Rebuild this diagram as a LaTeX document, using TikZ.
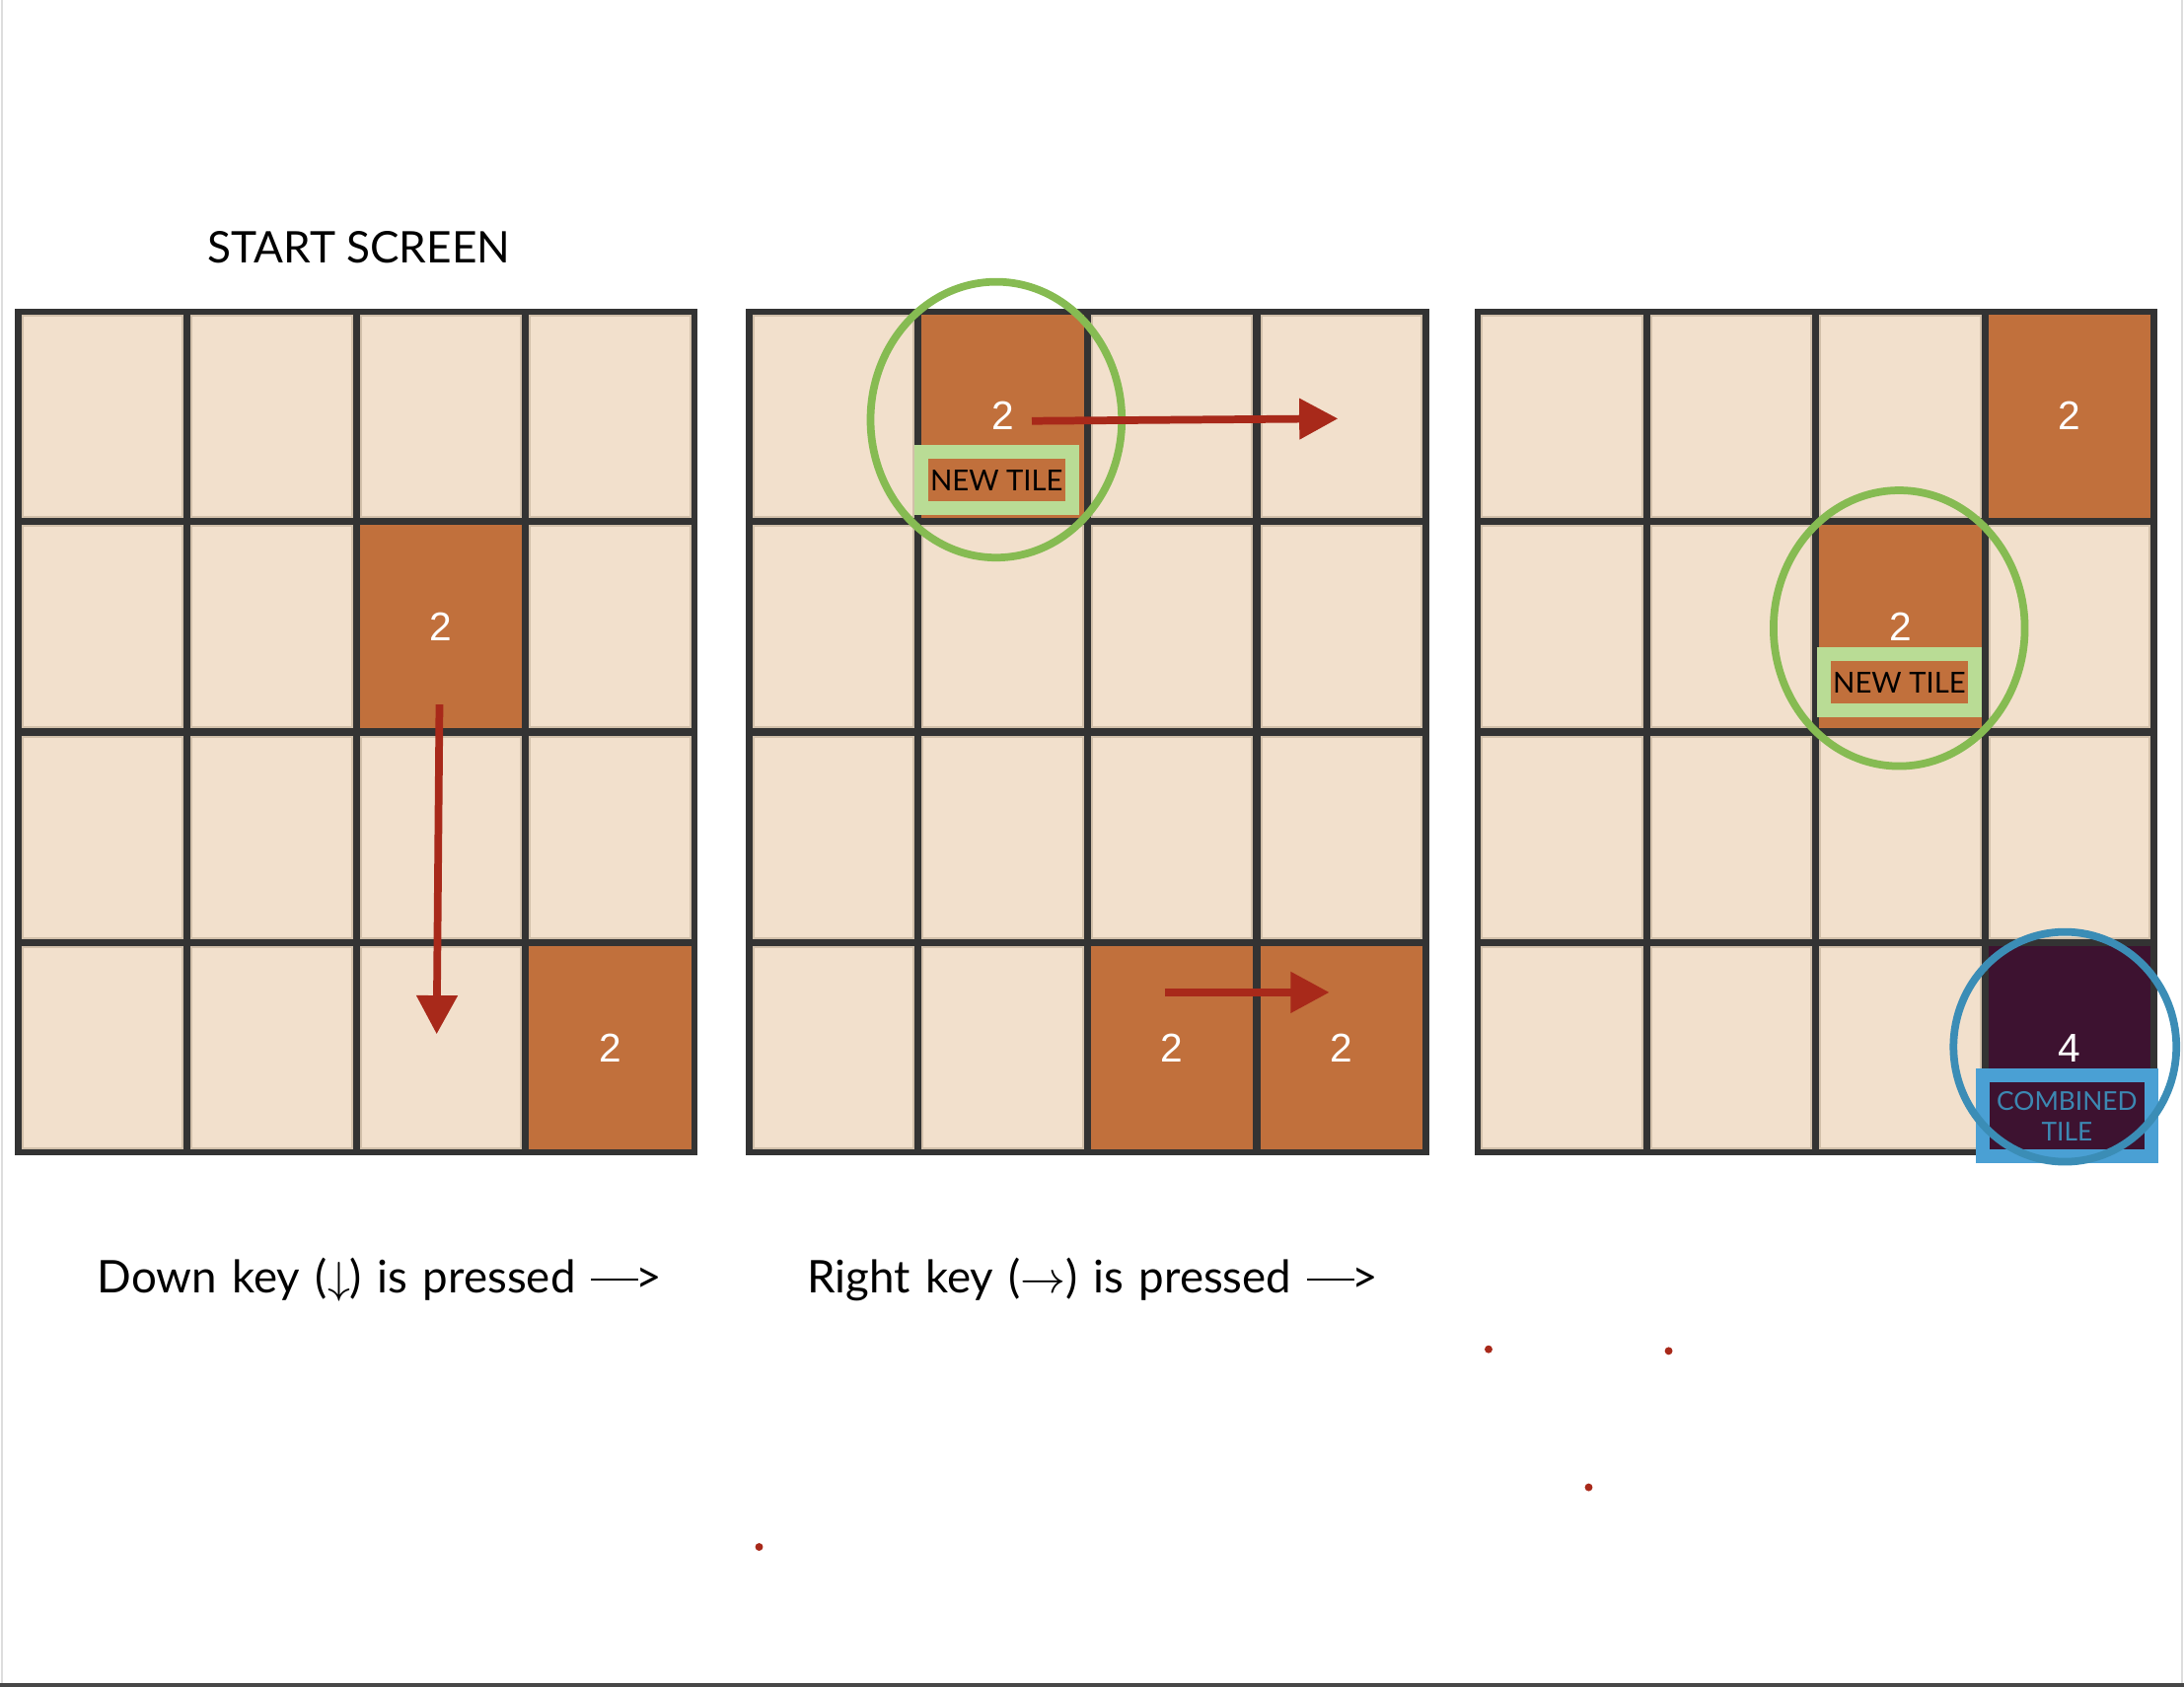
\documentclass[tikz,border=0pt]{standalone}
\usepackage{fontspec}
\setmainfont{Lato}
\newfontfamily\digitfont{Liberation Sans}
\newfontfamily\capfont{Lato}[WordSpace=1.33]
\usepackage{tikz}
\usetikzlibrary{arrows.meta,positioning,shapes.geometric}

\definecolor{board}{HTML}{333333}
\definecolor{sand}{HTML}{F2E0CC}
\definecolor{sandedge}{HTML}{D2C0AA}
\definecolor{copper}{HTML}{C1703C}
\definecolor{plum}{HTML}{3D1230}
\definecolor{arrowred}{HTML}{A8291A}
\definecolor{ringgreen}{HTML}{86BB52}
\definecolor{boxgreen}{HTML}{B9DC95}
\definecolor{ringblue}{HTML}{3B8DB6}
\definecolor{boxblue}{HTML}{4AA0D4}
\definecolor{textblue}{HTML}{3C88B2}
\definecolor{framegray}{HTML}{DDDDDD}

\newcommand{\longdash}{\rule[0.26em]{1.05em}{0.055em}\kern-0.05em}

\begin{document}
\begin{tikzpicture}[x=0.1mm, y=-0.1mm]
        \tikzset{cell/.style={rectangle, fill=sand, draw=sandedge, line width=0.4pt, minimum width=11.5mm, minimum height=14.44mm, inner sep=0pt}}
        \tikzset{tile/.style={cell, fill=copper, draw=copper, text=white, font=\digitfont\fontsize{8.2}{9}\selectfont}}
        \tikzset{bigtile/.style={tile, fill=plum, draw=plum}}
        \tikzset{label/.style={anchor=base, font=\fontsize{8.9}{10}\selectfont}}
        \tikzset{caption/.style={anchor=base, font=\capfont\fontsize{9.2}{10}\selectfont}}
        \tikzset{newbox/.style={rectangle, draw=boxgreen, line width=2.84pt, minimum width=10.81mm, minimum height=4.06mm, inner sep=0pt, font=\fontsize{5.9}{6}\selectfont}}
        \tikzset{sumbox/.style={rectangle, draw=boxblue, line width=2.84pt, minimum width=12.11mm, minimum height=5.8mm, inner sep=0pt, align=center, text=textblue, font=\fontsize{5.3}{6.2}\selectfont}}
        \tikzset{greenring/.style={ellipse, draw=ringgreen, line width=1.56pt, minimum width=18.04mm, minimum height=19.8mm, inner sep=0pt}}
        \tikzset{bluering/.style={ellipse, draw=ringblue, line width=1.56pt, minimum width=16mm, minimum height=16.5mm, inner sep=0pt}}
        \tikzset{move/.style={draw=arrowred, line width=1.56pt, -{Triangle[length=7.9pt, width=8.05pt]}}}

        \useasboundingbox (0,0) rectangle (1568,1211);

        % Frame of the slide
        \draw [framegray, line width=0.5pt] (1.6,0) -- (1.6,1208);
        \draw [framegray, line width=0.5pt] (1566.6,0) -- (1566.6,1208);
        \draw [board!90, line width=0.8pt] (0,1209.6) -- (1568,1209.6);

        % Board 1: start screen
        \node [label] (title) at (257.7,188.9) {START SCREEN};
        \fill [board] (10.5,222) rectangle (501,829);
        \foreach \c in {1,...,4}
            \foreach \r in {1,...,4}
                \node [cell] (a\c\r) at ({10.5+63+121.5*(\c-1)}, {298.7+151.2*(\r-1)}) {};
        \node [tile] (a32t) at (a32) {2};
        \node [tile] (a44t) at (a44) {2};

        % Board 2: after the down key
        \fill [board] (535.5,222) rectangle (1026,829);
        \foreach \c in {1,...,4}
            \foreach \r in {1,...,4}
                \node [cell] (b\c\r) at ({535.5+63+121.5*(\c-1)}, {298.7+151.2*(\r-1)}) {};
        \node [tile] (b21t) at (b21) {2};
        \node [tile] (b34t) at (b34) {2};
        \node [tile] (b44t) at (b44) {2};

        % Board 3: after the right key
        \fill [board] (1058.5,222) rectangle (1549,829);
        \foreach \c in {1,...,4}
            \foreach \r in {1,...,4}
                \node [cell] (c\c\r) at ({1058.5+63+121.5*(\c-1)}, {298.7+151.2*(\r-1)}) {};
        \node [tile] (c41t) at (c41) {2};
        \node [tile] (c32t) at (c32) {2};
        \node [bigtile] (c44t) at (c44) {4};

        % Marks for new and combined tiles
        \node [newbox] (newb) at (715.5,344.7) {NEW TILE};
        \node [greenring] (ringb) at (715.2,301.3) {};
        \node [newbox] (newc) at (1363.6,489.75) {NEW TILE};
        \node [greenring] (ringc) at (1363.5,451) {};
        \node [sumbox] (sumc) at (1484,801.2) {COMBINED\\TILE};
        \node [bluering] (ringd) at (1482.5,751.5) {};

        % Moves
        \coordinate (downA) at (315.5,505.8);
        \coordinate (downB) at (313.5,742.4);
        \coordinate (rightA) at (740.8,302.2);
        \coordinate (rightB) at (960.6,300.5);
        \coordinate (mergeA) at (836.4,712.4);
        \coordinate (mergeB) at (954.4,712.4);
        \draw [move] (downA) -- (downB);
        \draw [move] (rightA) -- (rightB);
        \draw [move] (mergeA) -- (mergeB);

        % Captions
        \node [caption] (downkey) at (272.6,928) {Down key ($\downarrow$) is pressed \longdash>};
        \node [caption] (rightkey) at (784.4,928) {Right key ($\rightarrow$) is pressed \longdash>};

        % Stray dots
        \fill [arrowred] (1068.7,968.6) circle (0.28mm);
        \fill [arrowred] (1198,969.8) circle (0.28mm);
        \fill [arrowred] (1140.6,1067.7) circle (0.28mm);
        \fill [arrowred] (545,1110.5) circle (0.28mm);
    \end{tikzpicture}
\end{document}
